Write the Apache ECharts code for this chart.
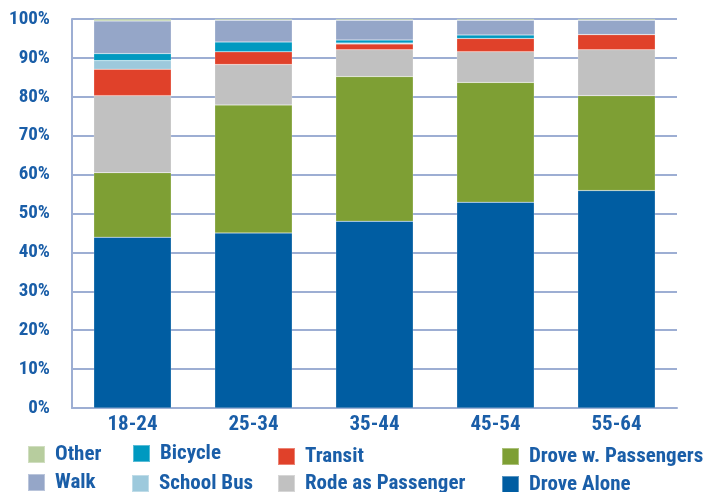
<!DOCTYPE html>
<html><head><meta charset="utf-8">
<script src="https://cdn.jsdelivr.net/npm/echarts@6/dist/echarts.min.js"></script>
<style>html,body{margin:0;padding:0;background:#fff}#c{width:709px;height:492px}</style>
</head><body><div id="c"></div>
<script>
const categories = ['18-24','25-34','35-44','45-54','55-64'];
const droveAlone      = [43.9, 45.0, 48.0, 52.9, 55.9];
const droveWPass      = [16.6, 32.9, 37.2, 30.8, 24.4];
const rodeAsPassenger = [19.8, 10.4, 6.9, 7.9, 11.8];
const transit         = [6.8, 3.3, 1.5, 3.4, 3.9];
const schoolBus       = [2.2, 0.0, 0.2, 0.0, 0.0];
const bicycle         = [1.8, 2.5, 0.8, 0.9, 0.0];
const walk            = [8.4, 5.6, 5.1, 3.8, 3.7];
const other           = [0.5, 0.3, 0.3, 0.3, 0.3];
const yTicks = [0,10,20,30,40,50,60,70,80,90,100];

const TXT = '#1a5ea8';
const FONT = '"Roboto Condensed","Open Sans Condensed","DejaVu Sans Condensed",sans-serif';
const seriesDefs = [
  ['Drove Alone', droveAlone, '#005da2'],
  ['Drove w. Passengers', droveWPass, '#7e9f34'],
  ['Rode as Passenger', rodeAsPassenger, '#c1c1c1'],
  ['Transit', transit, '#e0412a'],
  ['School Bus', schoolBus, '#9dc9dc'],
  ['Bicycle', bicycle, '#0099c0'],
  ['Walk', walk, '#95a6c8'],
  ['Other', other, '#b7cd9e']
];
const legendPos = {
  'Other': [27, 444], 'Walk': [27, 472],
  'Bicycle': [132, 443], 'School Bus': [131, 473],
  'Transit': [277, 446], 'Rode as Passenger': [277, 473],
  'Drove w. Passengers': [501, 446], 'Drove Alone': [501, 474]
};
const chart = echarts.init(document.getElementById('c'));
chart.setOption({
  animation: false,
  grid: {left: 72, right: 32, top: 19, bottom: 84},
  xAxis: {
    type: 'category', data: categories,
    axisLine: {lineStyle: {color: '#9daed3', width: 2}},
    axisTick: {show: false},
    axisLabel: {color: TXT, fontFamily: FONT, fontWeight: 'bold', fontSize: 21, margin: 6}
  },
  yAxis: {
    type: 'value', min: 0, max: 100, interval: 10,
    axisLine: {show: true, lineStyle: {color: '#9daed3', width: 2}},
    axisTick: {show: false},
    splitLine: {lineStyle: {color: '#9daed3', width: 2}},
    axisLabel: {color: TXT, fontFamily: FONT, fontWeight: 'bold', fontSize: 19, margin: 22,
      formatter: v => yTicks.includes(v) ? v + '%' : ''}
  },
  legend: seriesDefs.map(d => ({
    data: [d[0]], left: legendPos[d[0]][0], top: legendPos[d[0]][1],
    icon: 'rect', itemWidth: 17, itemHeight: 17, itemGap: 0, padding: 0,
    selectedMode: false,
    textStyle: {color: TXT, fontFamily: FONT, fontWeight: 'bold', fontSize: 21, lineHeight: 17, padding: [0,0,0,5]}
  })),
  series: seriesDefs.map(d => ({
    name: d[0], type: 'bar', stack: 'all', data: d[1], barWidth: '64%',
    itemStyle: {color: d[2], borderColor: 'rgba(255,255,255,0.35)', borderWidth: 0.5}
  }))
});
</script></body></html>
